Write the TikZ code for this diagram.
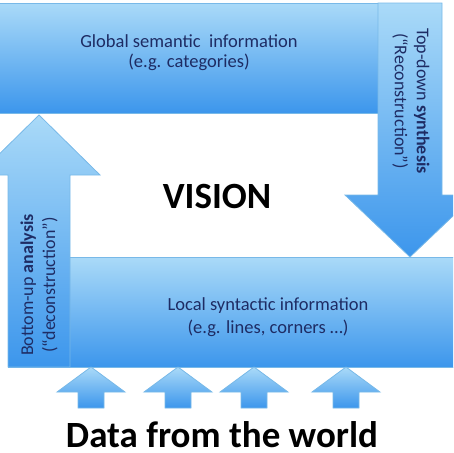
\documentclass[tikz,border=0pt]{standalone}
\usepackage{fontspec}
\setmainfont{Carlito}
\usepackage{tikz}

\definecolor{lite}{RGB}{170,218,248}
\definecolor{dark}{RGB}{60,150,236}
\definecolor{rim}{RGB}{120,185,232}
\definecolor{ink}{RGB}{30,44,100}

\tikzset{
  blk/.style={draw=rim, line width=0.8pt, top color=lite, bottom color=dark},
  lbl/.style={text=ink, align=center, font=\fontsize{18.5}{20}\selectfont},
}

\begin{document}
\begin{tikzpicture}[x=1pt,y=-1pt]
          \useasboundingbox (0,0) rectangle (453,453);
          \clip (0,0) rectangle (453,453);

          % the two layers
          \path[blk] (-2,3) rectangle (378,113);
          \path[blk] (8,257) rectangle (455,367);

          % top-down and bottom-up
          \path[blk] (378,3) -- (442,3) -- (442,195) -- (475,195) -- (410,257)
                     -- (345,195) -- (378,195) -- cycle;
          \path[blk] (8,367) -- (8,175) -- (-22,175) -- (39,115) -- (100,175)
                     -- (70,175) -- (70,367) -- cycle;

          % data coming in
          \foreach \c in {91,178,254,346}
            \path[blk] (\c-13,408) -- (\c-13,392) -- (\c-34,392) -- (\c,367)
                       -- (\c+34,392) -- (\c+13,392) -- (\c+13,408) -- cycle;

          \node[lbl] (glob) at (189,53) {Global semantic\ \ information\\(e.g. categories)};
          \node[lbl, font=\fontsize{18.5}{23}\selectfont] (loc) at (268,317)
               {Local syntactic information\\(e.g. lines, corners …)};
          \node[lbl, rotate=-90, font=\fontsize{18}{22}\selectfont] (td) at (411,101)
               {Top-down \textbf{synthesis}\\(“Reconstruction”)};
          \node[lbl, rotate=90, font=\fontsize{18}{22}\selectfont] (bu) at (39,285)
               {Bottom-up \textbf{analysis}\\(“deconstruction”)};

          \node[anchor=base, font=\fontsize{37}{40}\selectfont\bfseries] (vis) at (217,208) {VISION};
          \node[anchor=base, inner sep=0pt, font=\fontsize{37}{40}\selectfont\bfseries] (data) at (222,447)
               {Data from the world};
        \end{tikzpicture}
\end{document}
